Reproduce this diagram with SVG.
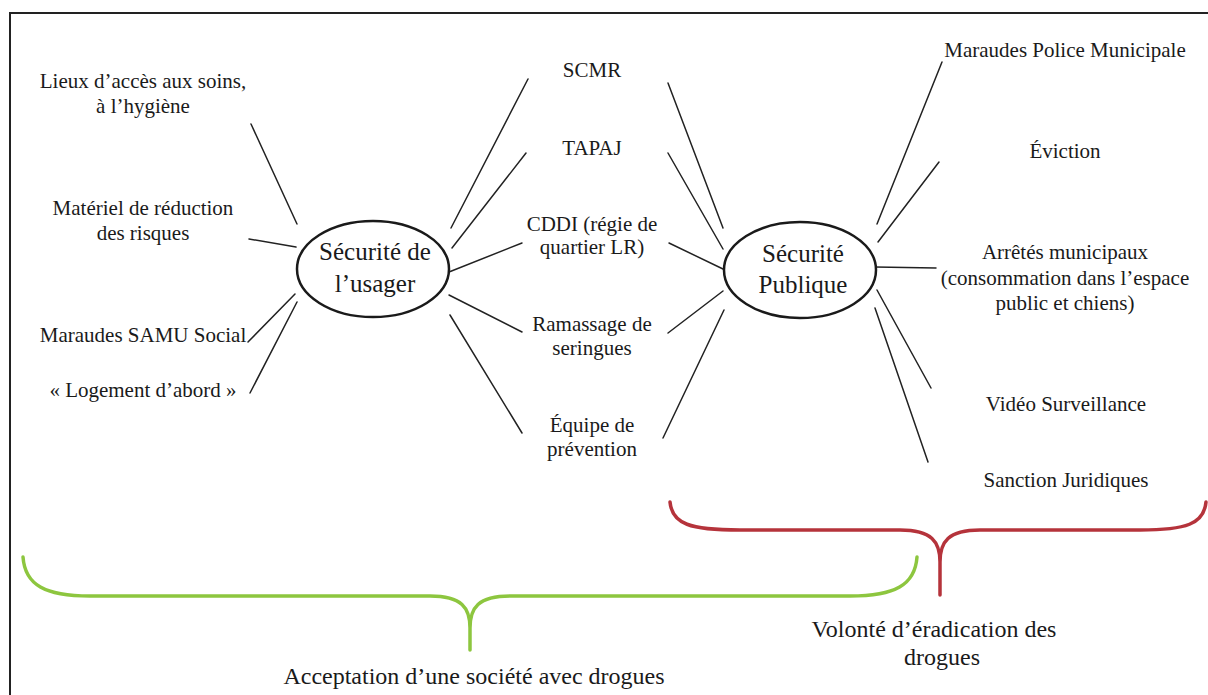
<svg xmlns="http://www.w3.org/2000/svg" width="1208" height="695" viewBox="0 0 1208 695">
<style>
text{font-family:'Liberation Serif','Times New Roman',Times,'DejaVu Serif',serif;fill:#1a1a1a;text-anchor:middle}
.lbl{font-size:21px}
.big{font-size:25px}
.bot{font-size:24px}
.ell{fill:#fff;stroke:#1a1a1a;stroke-width:2.5}
.con line{stroke:#222;stroke-width:1.5;stroke-linecap:round}
.brace{fill:none;stroke-width:3.5;stroke-linecap:round;stroke-linejoin:round}
</style>
<rect width="1208" height="695" fill="#fff"/>
<g id="frame" stroke="#222" stroke-width="2" fill="none">
<path d="M10,695 V13 H1208"/>
</g>
<g id="connectors" class="con">
<line x1="251" y1="124" x2="297" y2="224"/>
<line x1="249" y1="239" x2="296" y2="247"/>
<line x1="248" y1="342" x2="295" y2="294"/>
<line x1="250" y1="393" x2="297" y2="302"/>
<line x1="528" y1="79" x2="451" y2="228"/>
<line x1="526" y1="153" x2="452" y2="248"/>
<line x1="522" y1="243" x2="449" y2="272"/>
<line x1="522" y1="332" x2="449" y2="295"/>
<line x1="522" y1="433" x2="450" y2="315"/>
<line x1="668" y1="83" x2="723" y2="228"/>
<line x1="668" y1="153" x2="723" y2="249"/>
<line x1="669" y1="243" x2="723" y2="269"/>
<line x1="668" y1="333" x2="723" y2="291"/>
<line x1="663" y1="438" x2="724" y2="310"/>
<line x1="942" y1="62" x2="877" y2="224"/>
<line x1="939" y1="162" x2="878" y2="242"/>
<line x1="875" y1="267" x2="936" y2="268"/>
<line x1="877" y1="290" x2="931" y2="388"/>
<line x1="875" y1="308" x2="928" y2="462"/>
</g>
<g id="securite-usager">
<ellipse class="ell" cx="373" cy="269" rx="76" ry="48"/>
<text class="big" x="375" y="260">Sécurité de</text>
<text class="big" x="375" y="292">l’usager</text>
</g>
<g id="securite-publique">
<ellipse class="ell" cx="800" cy="270" rx="76" ry="48"/>
<text class="big" x="803" y="262">Sécurité</text>
<text class="big" x="803" y="293">Publique</text>
</g>
<g id="lieux"><text class="lbl" x="143" y="88">Lieux d’accès aux soins,</text><text class="lbl" x="143" y="113">à l’hygiène</text></g>
<g id="materiel"><text class="lbl" x="143" y="215">Matériel de réduction</text><text class="lbl" x="143" y="240">des risques</text></g>
<g id="samu"><text class="lbl" x="143" y="342">Maraudes SAMU Social</text></g>
<g id="logement"><text class="lbl" x="143" y="397">« Logement d’abord »</text></g>
<g id="scmr"><text class="lbl" x="592" y="77">SCMR</text></g>
<g id="tapaj"><text class="lbl" x="592" y="155">TAPAJ</text></g>
<g id="cddi"><text class="lbl" x="592" y="231">CDDI (régie de</text><text class="lbl" x="592" y="254">quartier LR)</text></g>
<g id="ramassage"><text class="lbl" x="592" y="331">Ramassage de</text><text class="lbl" x="592" y="355">seringues</text></g>
<g id="equipe"><text class="lbl" x="592" y="432">Équipe de</text><text class="lbl" x="592" y="456">prévention</text></g>
<g id="police"><text class="lbl" x="1065" y="57">Maraudes Police Municipale</text></g>
<g id="eviction"><text class="lbl" x="1065" y="158">Éviction</text></g>
<g id="arretes"><text class="lbl" x="1065" y="259">Arrêtés municipaux</text><text class="lbl" x="1065" y="285">(consommation dans l’espace</text><text class="lbl" x="1065" y="310">public et chiens)</text></g>
<g id="video"><text class="lbl" x="1066" y="411">Vidéo Surveillance</text></g>
<g id="sanction"><text class="lbl" x="1066" y="487">Sanction Juridiques</text></g>
<g id="brace-red">
<path class="brace" stroke="#b5333b" d="M670,502 C672,524 690,530 740,530 L900,530 C932,530 940,542 940,562 L940,595 M1206,502 C1204,524 1186,530 1140,530 L980,530 C948,530 940,542 940,562"/>
</g>
<g id="brace-green">
<path class="brace" stroke="#8dc63f" d="M23,557 C25,585 45,596 90,596 L430,596 C462,596 470,608 470,628 L470,650 M917,557 C915,585 895,596 850,596 L510,596 C478,596 470,608 470,628"/>
</g>
<g id="eradication"><text class="bot" x="934" y="637">Volonté d’éradication des</text><text class="bot" x="942" y="665">drogues</text></g>
<g id="acceptation"><text class="bot" x="474" y="684">Acceptation d’une société avec drogues</text></g>
</svg>
